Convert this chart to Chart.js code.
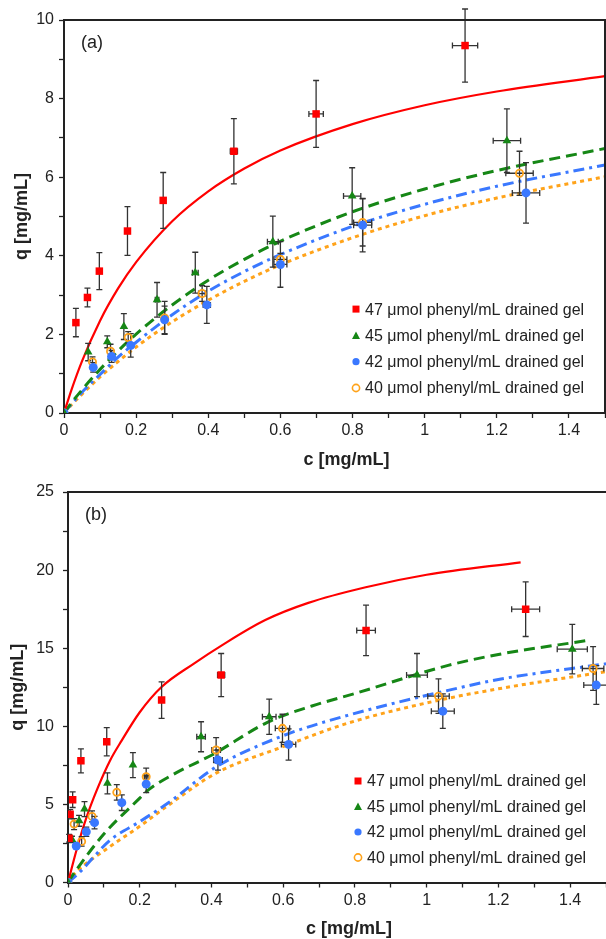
<!DOCTYPE html>
<html>
<head>
<meta charset="utf-8">
<script src="https://cdn.jsdelivr.net/npm/chart.js@4"></script>
<style>
  html, body { margin: 0; padding: 0; background: #fff; }
  #wrap { position: relative; width: 606px; height: 939px; overflow: hidden; }
  canvas { position: absolute; left: 0; }
  #chartA { top: 0; width: 606px; height: 470px; }
  #chartB { top: 470px; width: 606px; height: 469px; }
</style>
</head>
<body>
<div id="wrap">
  <canvas id="chartA" width="606" height="470"></canvas>
  <canvas id="chartB" width="606" height="469"></canvas>
</div>
<script>
// ---- panel (a): measured points (c, q) with error bars ----
const aC47  = [0.033, 0.065, 0.098, 0.176, 0.275, 0.471, 0.699, 1.112];
const aQ47  = [2.30, 2.94, 3.61, 4.63, 5.41, 6.66, 7.61, 9.35];
const aQe47 = [0.36, 0.24, 0.47, 0.62, 0.71, 0.83, 0.85, 0.93];
const aCe47 = [0, 0, 0, 0, 0.004, 0.01, 0.02, 0.035];

const aC45  = [0, 0.067, 0.120, 0.166, 0.258, 0.364, 0.579, 0.799, 1.228];
const aQ45  = [0, 1.55, 1.81, 2.20, 2.88, 3.57, 4.36, 5.52, 6.93];
const aQe45 = [0, 0.22, 0.15, 0.33, 0.44, 0.52, 0.65, 0.72, 0.81];
const aCe45 = [0, 0, 0, 0, 0.005, 0.008, 0.015, 0.024, 0.038];

const aC42  = [0, 0.081, 0.132, 0.185, 0.279, 0.396, 0.600, 0.828, 1.281];
const aQ42  = [0, 1.16, 1.44, 1.72, 2.37, 2.75, 3.78, 4.78, 5.60];
const aQe42 = [0, 0.12, 0.15, 0.30, 0.35, 0.47, 0.58, 0.68, 0.77];
const aCe42 = [0, 0, 0, 0, 0.005, 0.01, 0.018, 0.025, 0.038];

const aC40  = [0, 0.079, 0.129, 0.178, 0.279, 0.383, 0.600, 0.828, 1.263];
const aQ40  = [0, 1.30, 1.57, 1.92, 2.42, 3.04, 3.91, 4.85, 6.10];
const aQe40 = [0, 0.13, 0.18, 0.15, 0.42, 0.20, 0.15, 0.60, 0.56];
const aCe40 = [0, 0, 0, 0, 0.005, 0.01, 0.018, 0.025, 0.038];

// panel (a): model curves
const aFitC  = [0, 0.02, 0.05, 0.1, 0.15, 0.2, 0.3, 0.4, 0.5, 0.6, 0.8, 1.0, 1.2, 1.5];
const aFit47 = [0, 0.57, 1.32, 2.35, 3.17, 3.84, 4.88, 5.64, 6.22, 6.68, 7.35, 7.83, 8.18, 8.57];
const aFit45 = [0, 0.25, 0.59, 1.11, 1.58, 2.01, 2.75, 3.38, 3.91, 4.37, 5.12, 5.70, 6.17, 6.73];
const aFit42 = [0, 0.22, 0.53, 0.98, 1.42, 1.80, 2.50, 3.10, 3.60, 4.03, 4.75, 5.31, 5.77, 6.31];
const aFit40 = [0, 0.20, 0.48, 0.92, 1.31, 1.68, 2.32, 2.87, 3.35, 3.77, 4.46, 5.02, 5.47, 6.01];

// ---- panel (b): measured points ----
const bC47  = [0.003, 0.006, 0.013, 0.036, 0.108, 0.261, 0.427, 0.831, 1.276];
const bQ47  = [2.83, 4.37, 5.30, 7.79, 9.01, 11.68, 13.28, 16.14, 17.50];
const bQe47 = [0.25, 0.30, 0.50, 0.77, 0.90, 1.17, 1.38, 1.62, 1.75];
const bCe47 = [0, 0, 0, 0, 0, 0.005, 0.01, 0.026, 0.039];

const bC45  = [0, 0.011, 0.031, 0.046, 0.110, 0.181, 0.371, 0.561, 0.973, 1.406];
const bQ45  = [0, 2.76, 3.95, 4.70, 6.35, 7.52, 9.33, 10.61, 13.28, 14.94];
const bQe45 = [0, 0.20, 0.35, 0.48, 0.67, 0.80, 0.96, 1.13, 1.38, 1.58];
const bCe45 = [0, 0, 0, 0, 0, 0, 0.012, 0.019, 0.029, 0.042];

const bC42  = [0, 0.023, 0.051, 0.074, 0.150, 0.218, 0.418, 0.615, 1.045, 1.473];
const bQ42  = [0, 2.34, 3.25, 3.83, 5.11, 6.30, 7.84, 8.84, 10.97, 12.64];
const bQe42 = [0, 0.15, 0.30, 0.40, 0.50, 0.55, 0.65, 1.00, 1.10, 1.24];
const bCe42 = [0, 0, 0, 0, 0, 0, 0.012, 0.020, 0.032, 0.035];

const bC40  = [0, 0.017, 0.038, 0.067, 0.136, 0.218, 0.413, 0.598, 1.033, 1.464];
const bQ40  = [0, 3.74, 2.63, 4.23, 5.77, 6.77, 8.48, 9.87, 11.93, 13.70];
const bQe40 = [0, 0.35, 0.30, 0.35, 0.50, 0.55, 0.80, 0.90, 1.10, 1.40];
const bCe40 = [0, 0, 0, 0, 0, 0.005, 0.012, 0.020, 0.030, 0.030];

// panel (b): model curves
const bFitC47 = [0, 0.024, 0.052, 0.08, 0.117, 0.15, 0.2, 0.26, 0.35, 0.43, 0.55, 0.67, 0.83, 1.0, 1.262];
const bFit47  = [0, 2.1, 4.2, 5.9, 7.8, 9.1, 10.9, 12.5, 14.0, 15.2, 16.8, 17.9, 18.9, 19.7, 20.5];
const bFitC45 = [0, 0.02, 0.1, 0.2, 0.22, 0.3, 0.4, 0.56, 0.68, 0.8, 1.06, 1.2, 1.45];
const bFit45  = [0, 0.7, 3.1, 5.4, 5.85, 7.0, 8.15, 10.3, 11.3, 12.1, 13.9, 14.6, 15.5];
const bFitC42 = [0, 0.03, 0.117, 0.2, 0.28, 0.413, 0.6, 0.78, 1.06, 1.2, 1.5];
const bFit42  = [0, 0.6, 2.7, 3.9, 5.1, 7.4, 9.4, 10.7, 12.3, 13.0, 14.0];
const bFitC40 = [0, 0.02, 0.117, 0.2, 0.283, 0.413, 0.6, 0.78, 1.02, 1.2, 1.5];
const bFit40  = [0, 0.6, 2.3, 3.6, 5.0, 7.0, 8.7, 10.2, 11.6, 12.4, 13.5];

const legendLabels = [
  '47 μmol phenyl/mL drained gel',
  '45 μmol phenyl/mL drained gel',
  '42 μmol phenyl/mL drained gel',
  '40 μmol phenyl/mL drained gel'
];
const xTitle = 'c [mg/mL]';
const yTitle = 'q [mg/mL]';

const FONT = '"Liberation Sans", Arial, Helvetica, sans-serif';
const INK = '#222';

// marker + line look for each ligand density (47, 45, 42, 40)
const LOOK = [
  { color: '#ff0000', shape: 'rect',     r: 5.3, fill: '#ff0000', bw: 0,   dash: [],            lw: 2.2 },
  { color: '#168716', shape: 'triangle', r: 5,   fill: '#168716', bw: 0,   dash: [11, 6],       lw: 3 },
  { color: '#3a78ff', shape: 'circle',   r: 4.5, fill: '#3a78ff', bw: 0,   dash: [11, 5, 3, 5], lw: 3 },
  { color: '#ffa31a', shape: 'circle',   r: 3.6, fill: 'rgba(0,0,0,0)', bw: 1.8, dash: [4, 4], lw: 3 }
];

function pts(c, q) { return c.map((x, i) => ({ x: x, y: q[i] })); }

function drawErrorBars(chart) {
  const ctx = chart.ctx;
  const xs = chart.scales.x, ys = chart.scales.y;
  ctx.save();
  ctx.strokeStyle = '#333';
  ctx.lineWidth = 1.3;
  chart.data.datasets.forEach(ds => {
    if (!ds.qErr) return;
    ds.data.forEach((p, i) => {
      const x = xs.getPixelForValue(p.x), y = ys.getPixelForValue(p.y);
      const eq = ds.qErr[i], ec = ds.cErr[i];
      ctx.beginPath();
      if (eq > 0) {
        const y1 = ys.getPixelForValue(p.y + eq), y2 = ys.getPixelForValue(p.y - eq);
        ctx.moveTo(x, y1); ctx.lineTo(x, y2);
        ctx.moveTo(x - 3, y1); ctx.lineTo(x + 3, y1);
        ctx.moveTo(x - 3, y2); ctx.lineTo(x + 3, y2);
      }
      if (ec > 0) {
        const x1 = xs.getPixelForValue(p.x - ec), x2 = xs.getPixelForValue(p.x + ec);
        ctx.moveTo(x1, y); ctx.lineTo(x2, y);
        ctx.moveTo(x1, y - 3); ctx.lineTo(x1, y + 3);
        ctx.moveTo(x2, y - 3); ctx.lineTo(x2, y + 3);
      }
      ctx.stroke();
    });
  });
  ctx.restore();
}

function drawLegendMark(ctx, look, x, y) {
  ctx.save();
  ctx.fillStyle = look.fill;
  ctx.strokeStyle = look.color;
  if (look.shape === 'rect') {
    ctx.fillRect(x - 3.5, y - 3.5, 7, 7);
  } else if (look.shape === 'triangle') {
    ctx.beginPath();
    ctx.moveTo(x, y - 4); ctx.lineTo(x + 4, y + 3.5); ctx.lineTo(x - 4, y + 3.5);
    ctx.closePath(); ctx.fill();
  } else {
    ctx.beginPath();
    ctx.arc(x, y, 3.6, 0, Math.PI * 2);
    if (look.bw) { ctx.lineWidth = 1.6; ctx.stroke(); } else { ctx.fill(); }
  }
  ctx.restore();
}

const extras = {
  id: 'extras',
  beforeDatasetDraw(chart, args) {
    // error bars go under the markers but above the curves
    if (args.index === 3) drawErrorBars(chart);
  },
  afterDraw(chart, args, opts) {
    const ctx = chart.ctx, a = chart.chartArea;
    ctx.save();
    // frame: top edge always, right edge only when it is inside the page
    ctx.strokeStyle = INK;
    ctx.lineWidth = 2;
    ctx.beginPath();
    ctx.moveTo(a.left, a.top);
    ctx.lineTo(a.right, a.top);
    if (opts.rightEdge) ctx.lineTo(a.right, a.bottom);
    ctx.stroke();
    // panel tag
    ctx.fillStyle = INK;
    ctx.textBaseline = 'middle';
    ctx.textAlign = 'left';
    ctx.font = '18px ' + FONT;
    ctx.fillText(opts.tag, a.left + 17, a.top + 23);
    // axis titles
    ctx.font = 'bold 18px ' + FONT;
    ctx.textAlign = 'center';
    ctx.fillText(xTitle, (a.left + a.right) / 2 + 12, a.bottom + 47);
    ctx.save();
    ctx.translate(a.left - opts.yTitleGap, (a.top + a.bottom) / 2);
    ctx.rotate(-Math.PI / 2);
    ctx.fillText(yTitle, 0, 0);
    ctx.restore();
    // legend, anchored to lower right corner
    ctx.font = '16px ' + FONT;
    ctx.textAlign = 'left';
    legendLabels.forEach((lab, k) => {
      const y = a.bottom - 25 - (legendLabels.length - 1 - k) * opts.rowGap;
      const tx = a.right - opts.legendInset;
      drawLegendMark(ctx, LOOK[k], tx - 9, y);
      ctx.fillStyle = INK;
      ctx.fillText(lab, tx, y + 1);
    });
    ctx.restore();
  }
};

function buildPanel(canvasId, p) {
  const datasets = [];
  p.points.forEach((s, k) => {
    const L = LOOK[k];
    datasets.push({
      data: pts(s.c, s.q), qErr: s.qe, cErr: s.ce,
      showLine: false,
      pointStyle: L.shape, pointRadius: L.r,
      backgroundColor: L.fill, borderColor: L.color, borderWidth: L.bw
    });
  });
  p.fits.forEach((f, k) => {
    const L = LOOK[k];
    datasets.push({
      data: pts(f.c, f.q),
      showLine: true, pointRadius: 0,
      borderColor: L.color, borderWidth: L.lw, borderDash: L.dash,
      cubicInterpolationMode: 'monotone', fill: false
    });
  });

  const tickFont = { size: 16, family: FONT };
  return new Chart(document.getElementById(canvasId), {
    type: 'scatter',
    data: { datasets: datasets },
    plugins: [extras],
    options: {
      responsive: false,
      animation: false,
      devicePixelRatio: 1,
      layout: { autoPadding: false, padding: { top: p.padTop, right: p.padRight, left: 0, bottom: 0 } },
      plugins: {
        legend: { display: false },
        tooltip: { enabled: false },
        extras: { tag: p.tag, yTitleGap: p.yTitleGap, rowGap: p.rowGap, legendInset: p.legendInset, rightEdge: p.rightEdge }
      },
      scales: {
        x: {
          type: 'linear', min: 0, max: 1.5,
          ticks: {
            stepSize: 0.1, maxTicksLimit: 100, autoSkip: false, maxRotation: 0,
            color: INK, font: tickFont, padding: 3,
            callback: v => { const k = Math.round(v * 10); return k % 2 === 0 ? String(k / 10) : ''; }
          },
          grid: { drawOnChartArea: false, drawTicks: true, tickLength: 5, color: INK, tickWidth: 1.3 },
          border: { color: INK, width: 2 },
          afterFit: s => { s.height = p.xAxisH; s.paddingLeft = 0; s.paddingRight = 0; }
        },
        y: {
          type: 'linear', min: 0, max: p.yMax,
          ticks: {
            stepSize: p.yStep, maxTicksLimit: 100, autoSkip: false,
            color: INK, font: tickFont, padding: p.yPad,
            callback: v => (Math.abs(v % p.yLabelEvery) < 1e-9 ? String(v) : '')
          },
          grid: { drawOnChartArea: false, drawTicks: true, tickLength: 5, color: INK, tickWidth: 1.3 },
          border: { color: INK, width: 2 },
          afterFit: s => { s.width = p.yAxisW; s.paddingTop = 0; s.paddingBottom = 0; }
        }
      }
    }
  });
}

buildPanel('chartA', {
  tag: '(a)', yMax: 10, yStep: 1, yLabelEvery: 2, rightEdge: true,
  padTop: 20, padRight: 1, xAxisH: 57, yAxisW: 64, yPad: 5, yTitleGap: 42, rowGap: 26.3, legendInset: 240,
  points: [
    { c: aC47, q: aQ47, qe: aQe47, ce: aCe47 },
    { c: aC45, q: aQ45, qe: aQe45, ce: aCe45 },
    { c: aC42, q: aQ42, qe: aQe42, ce: aCe42 },
    { c: aC40, q: aQ40, qe: aQe40, ce: aCe40 }
  ],
  fits: [
    { c: aFitC, q: aFit47 },
    { c: aFitC, q: aFit45 },
    { c: aFitC, q: aFit42 },
    { c: aFitC, q: aFit40 }
  ]
});

// panel (b) is cropped on the right in the original, so no right frame edge
buildPanel('chartB', {
  tag: '(b)', yMax: 25, yStep: 2.5, yLabelEvery: 5, rightEdge: false,
  padTop: 22, padRight: 0, xAxisH: 56.5, yAxisW: 68, yPad: 9, yTitleGap: 50, rowGap: 25.5, legendInset: 239,
  points: [
    { c: bC47, q: bQ47, qe: bQe47, ce: bCe47 },
    { c: bC45, q: bQ45, qe: bQe45, ce: bCe45 },
    { c: bC42, q: bQ42, qe: bQe42, ce: bCe42 },
    { c: bC40, q: bQ40, qe: bQe40, ce: bCe40 }
  ],
  fits: [
    { c: bFitC47, q: bFit47 },
    { c: bFitC45, q: bFit45 },
    { c: bFitC42, q: bFit42 },
    { c: bFitC40, q: bFit40 }
  ]
});
</script>
</body>
</html>
